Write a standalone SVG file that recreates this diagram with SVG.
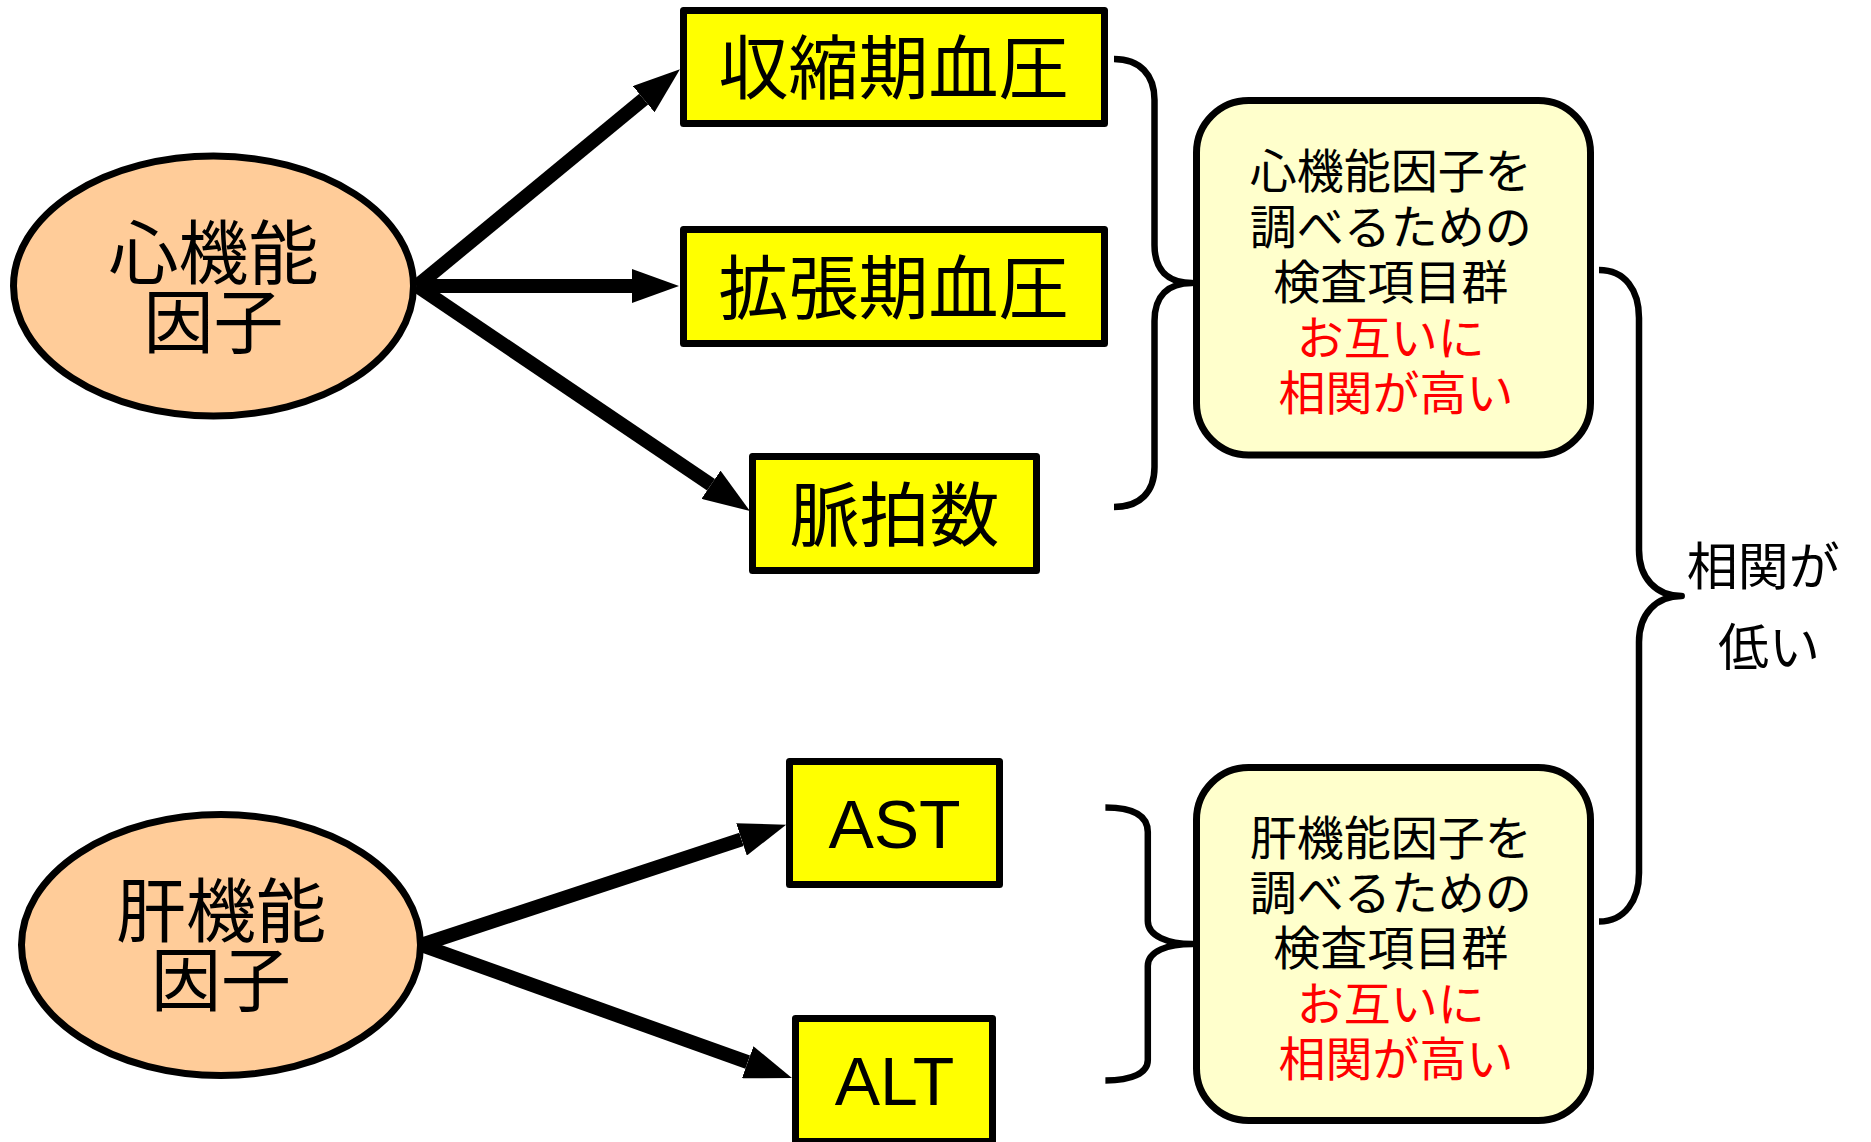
<svg xmlns="http://www.w3.org/2000/svg" width="1871" height="1142" viewBox="0 0 1871 1142">
<defs>
<style>
.ell{fill:#FFCC99;stroke:#000;stroke-width:7}
.box{fill:#FFFF00;stroke:#000;stroke-width:7;stroke-linejoin:round}
.rbox{fill:#FFFFCC;stroke:#000;stroke-width:7}
.jp{font-family:"Noto Sans CJK JP","Noto Sans",sans-serif;fill:#000;text-anchor:middle}
.lat{font-family:"Liberation Sans",Arial,sans-serif;fill:#000;text-anchor:middle}
.red{fill:#FF0000}
.arrow{stroke:#000;stroke-width:14;fill:none;marker-end:url(#ah)}
.brace{stroke:#000;stroke-width:6.5;fill:none;stroke-linejoin:round}
</style>
<marker id="ah" viewBox="0 0 47 34" refX="0" refY="17" markerWidth="47" markerHeight="34" markerUnits="userSpaceOnUse" orient="auto">
<path d="M0,0 L47,17 L0,34 Z" fill="#000"/>
</marker>
</defs>
<rect width="1871" height="1142" fill="#fff"/>

<g id="connectors">
<line class="arrow" x1="417" y1="286" x2="643.7" y2="99.2"/>
<line class="arrow" x1="417" y1="286" x2="632" y2="286"/>
<line class="arrow" x1="417" y1="286" x2="711" y2="484.7"/>
<line class="arrow" x1="421" y1="945" x2="741.5" y2="839.4"/>
<line class="arrow" x1="421" y1="945" x2="747.7" y2="1062.2"/>
<path class="brace" d="M1114,59 C1140,59 1154.5,75 1154.5,100 L1154.5,245 C1154.5,270 1168,283 1192,283 C1168,283 1154.5,296 1154.5,321 L1154.5,467 C1154.5,492 1140,507 1114,507"/>
<path class="brace" d="M1105.4,807.4 C1132,807.4 1147.8,815 1147.8,832 L1147.8,921 C1147.8,936 1168,944 1192.4,944 C1168,944 1147.8,951 1147.8,966 L1147.8,1060 C1147.8,1073 1132,1080.5 1105.4,1080.5"/>
<path class="brace" d="M1599,270 C1625,270 1639,290 1639,318 L1639,550 C1639,578 1656,596 1681.7,596 C1656,596 1639,614 1639,642 L1639,873 C1639,900 1625,921.5 1599,921.5"/>
</g>

<g id="heart-factor">
<ellipse class="ell" cx="213.5" cy="286" rx="200" ry="130"/>
<text class="jp" x="213.5" y="279" font-size="70">心機能</text>
<text class="jp" x="213.5" y="348" font-size="70">因子</text>
</g>

<g id="liver-factor">
<ellipse class="ell" cx="221" cy="945" rx="199.5" ry="130.5"/>
<text class="jp" x="221" y="936.5" font-size="70">肝機能</text>
<text class="jp" x="221" y="1005.6" font-size="70">因子</text>
</g>

<g id="systolic">
<rect class="box" x="683.5" y="10.5" width="421" height="113"/>
<text class="jp" x="893.5" y="94" font-size="70">収縮期血圧</text>
</g>

<g id="diastolic">
<rect class="box" x="683.5" y="229.5" width="421" height="114"/>
<text class="jp" x="893.5" y="314" font-size="70">拡張期血圧</text>
</g>

<g id="pulse">
<rect class="box" x="752.5" y="456.5" width="284" height="114"/>
<text class="jp" x="894.5" y="541" font-size="70">脈拍数</text>
</g>

<g id="ast">
<rect class="box" x="789.5" y="761.5" width="210" height="123"/>
<text class="lat" x="894.5" y="848" font-size="68">AST</text>
</g>

<g id="alt">
<rect class="box" x="795.5" y="1018.5" width="197" height="123"/>
<text class="lat" x="894.5" y="1104.7" font-size="68">ALT</text>
</g>

<g id="heart-group">
<rect class="rbox" x="1196.5" y="100.5" width="394" height="354.5" rx="52" ry="52"/>
<text class="jp" font-size="47">
<tspan x="1396" y="188">心機能因子を</tspan>
<tspan x="1396" y="243.5">調べるための</tspan>
<tspan x="1396" y="299">検査項目群</tspan>
<tspan class="red" x="1396" y="354.5">お互いに</tspan>
<tspan class="red" x="1396" y="410">相関が高い</tspan>
</text>
</g>

<g id="liver-group">
<rect class="rbox" x="1196.5" y="767.5" width="394" height="353" rx="52" ry="52"/>
<text class="jp" font-size="47">
<tspan x="1396" y="855">肝機能因子を</tspan>
<tspan x="1396" y="910.2">調べるための</tspan>
<tspan x="1396" y="965.4">検査項目群</tspan>
<tspan class="red" x="1396" y="1020.6">お互いに</tspan>
<tspan class="red" x="1396" y="1075.8">相関が高い</tspan>
</text>
</g>

<g id="low-correlation">
<text class="jp" font-size="51">
<tspan x="1769" y="585">相関が</tspan>
<tspan x="1769" y="666">低い</tspan>
</text>
</g>
</svg>
